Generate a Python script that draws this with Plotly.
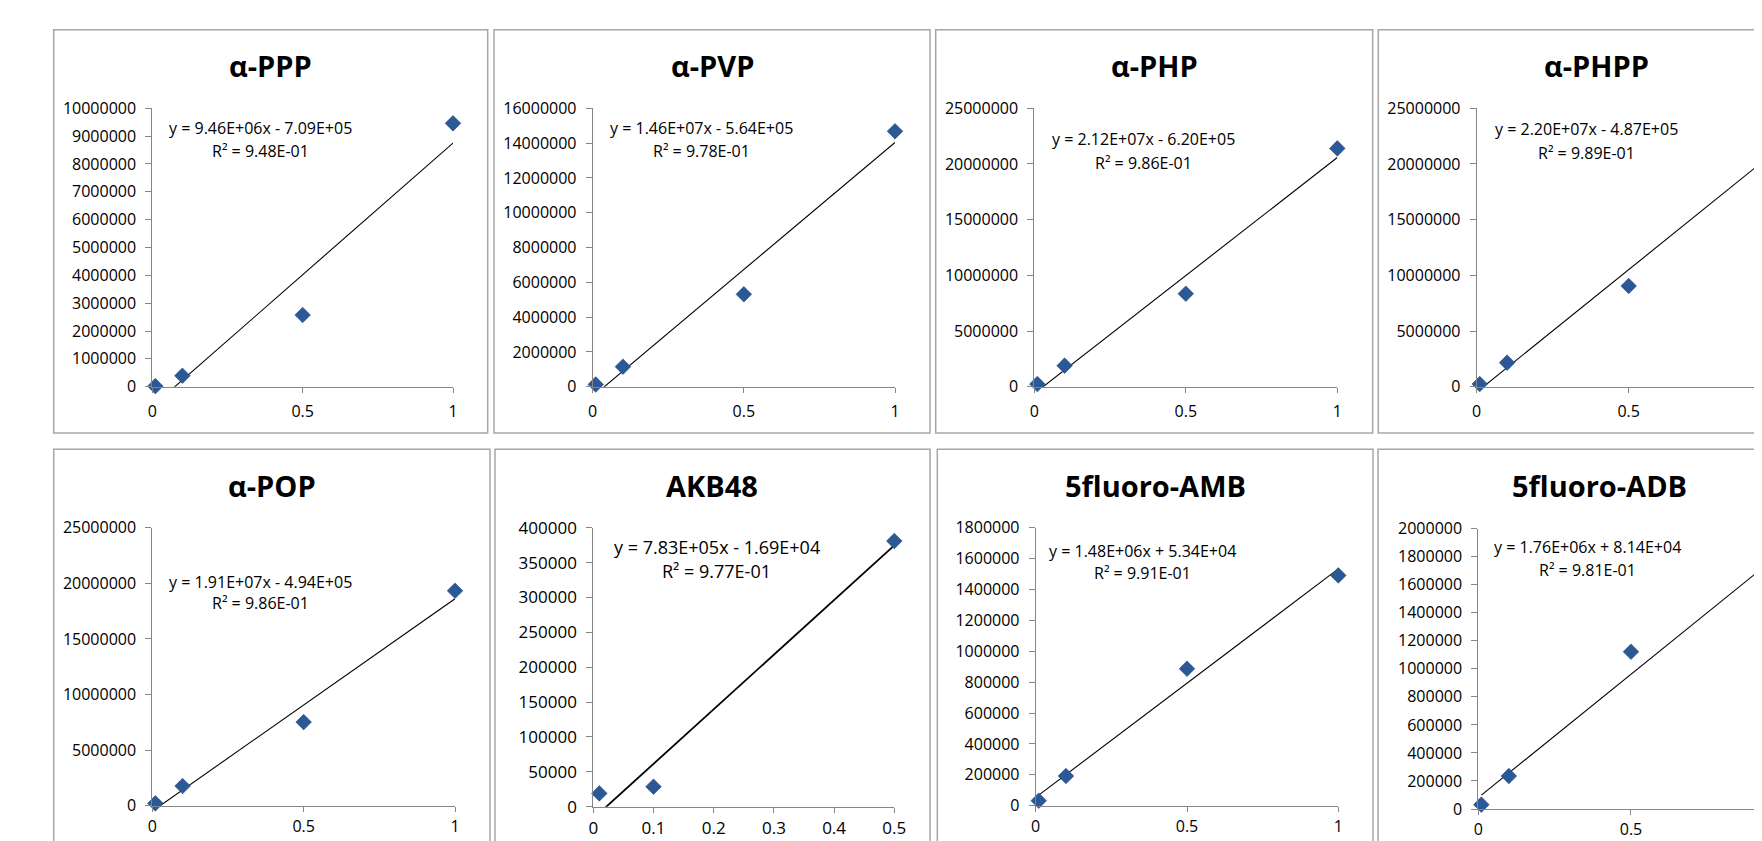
import plotly.graph_objects as go

# The page body adds an 8 px margin, so the figure is drawn 8 px smaller and
# every screen position below is shifted by that offset.
SCREEN_W, SCREEN_H = 1762, 841
OFF = 8
W, H = SCREEN_W - OFF, SCREEN_H - OFF

# ---------------- data ----------------
titles = ["α-PPP", "α-PVP", "α-PHP", "α-PHPP", "α-POP", "AKB48", "5fluoro-AMB", "5fluoro-ADB"]

ppp_x = [0.01, 0.1, 0.5, 1.0]
ppp_y = [20000, 395000, 2575000, 9460000]
pvp_x = [0.01, 0.1, 0.5, 1.0]
pvp_y = [130000, 1150000, 5310000, 14680000]
php_x = [0.01, 0.1, 0.5, 1.0]
php_y = [240000, 1890000, 8350000, 21400000]
phpp_x = [0.01, 0.1, 0.5]          # x = 1 point is cut off in the picture
phpp_y = [240000, 2160000, 9040000]
pop_x = [0.01, 0.1, 0.5, 1.0]
pop_y = [210000, 1770000, 7520000, 19330000]
akb_x = [0.01, 0.1, 0.5]
akb_y = [19100, 28700, 380900]
amb_x = [0.01, 0.1, 0.5, 1.0]
amb_y = [32400, 192000, 887000, 1491000]
adb_x = [0.01, 0.1, 0.5]           # x = 1 point is cut off in the picture
adb_y = [30900, 235000, 1122000]

slopes = [9.46e6, 1.46e7, 2.12e7, 2.20e7, 1.91e7, 7.83e5, 1.48e6, 1.76e6]
intercepts = [-7.09e5, -5.64e5, -6.20e5, -4.87e5, -4.94e5, -1.69e4, 5.34e4, 8.14e4]
r_squared = [9.48e-1, 9.78e-1, 9.86e-1, 9.89e-1, 9.86e-1, 9.77e-1, 9.91e-1, 9.81e-1]
trend_x_min = [0.01] * 8
trend_x_max = [1.0, 1.0, 1.0, 1.0, 1.0, 0.5, 1.0, 1.0]

y_max = [1e7, 1.6e7, 2.5e7, 2.5e7, 2.5e7, 4e5, 1.8e6, 2e6]
y_step = [1e6, 2e6, 5e6, 5e6, 5e6, 5e4, 2e5, 2e5]
x_step = [0.5, 0.5, 0.5, 0.5, 0.5, 0.1, 0.5, 0.5]

series_x = [ppp_x, pvp_x, php_x, phpp_x, pop_x, akb_x, amb_x, adb_x]
series_y = [ppp_y, pvp_y, php_y, phpp_y, pop_y, akb_y, amb_y, adb_y]

# ---------------- layout geometry (screen pixels) ----------------
plot_px = [
    (152.3, 453.0, 108.3, 386.7),
    (592.7, 895.0, 108.3, 386.7),
    (1034.3, 1337.3, 108.3, 386.7),
    (1476.7, 1762.0, 108.3, 386.7),
    (152.3, 455.0, 527.7, 805.7),
    (593.3, 894.3, 527.7, 806.7),
    (1035.7, 1338.3, 527.7, 805.7),
    (1478.3, 1762.0, 528.7, 809.0),
]
x_hi = [1.0, 1.0, 1.0, 0.9385, 1.0, 0.5, 1.0, 0.929]

borders_px = [
    (53.7, 487.7, 29.7, 433.0),
    (494.0, 930.0, 29.7, 433.0),
    (935.7, 1372.7, 29.7, 433.0),
    (1378.3, 1790.0, 29.7, 433.0),
    (53.7, 490.0, 449.3, 880.0),
    (495.0, 930.0, 449.3, 880.0),
    (937.3, 1373.0, 449.3, 880.0),
    (1378.0, 1790.0, 449.3, 880.0),
]
title_px = [
    (270.7, 65.7), (712.0, 65.7), (1154.2, 65.7), (1596.7, 65.7),
    (271.7, 485.7), (712.0, 485.7), (1155.5, 485.7), (1599.2, 485.7),
]
eq_px = [
    (260.0, 127.7, 150.7),
    (701.3, 127.7, 150.7),
    (1143.3, 139.3, 162.7),
    (1586.3, 129.3, 152.7),
    (261.0, 581.7, 603.3),
    (716.5, 546.7, 570.7),
    (1142.8, 550.7, 573.3),
    (1587.2, 547.3, 570.0),
]

FONT = "Open Sans"
AXIS_GRAY = "#868686"
MARK = "#2B5896"


def px(x):
    return (x - OFF) / W


def py(y):
    return 1 - (y - OFF) / H


fig = go.Figure()
shapes = []
annotations = []

for i in range(8):
    n = i + 1
    xa = "x" if n == 1 else f"x{n}"
    ya = "y" if n == 1 else f"y{n}"
    big = (i == 5)
    bottom_row = i >= 4
    tick_size = 17 if big else 16
    eq_size = 18 if big else 16
    title_size = 29

    tx = [trend_x_min[i], trend_x_max[i]]
    ty = [slopes[i] * v + intercepts[i] for v in tx]
    fig.add_trace(go.Scatter(x=tx, y=ty, mode="lines", xaxis=xa, yaxis=ya,
                             line=dict(color="black", width=1.8 if big else 1.1),
                             showlegend=False, hoverinfo="skip"))
    fig.add_trace(go.Scatter(x=series_x[i], y=series_y[i], mode="markers", xaxis=xa, yaxis=ya,
                             marker=dict(symbol="diamond", size=12, color=MARK,
                                         line=dict(width=0.6, color="#244a80")),
                             cliponaxis=False, showlegend=False, name=titles[i]))

    xl, xr, yt, yb = plot_px[i]
    xaxis = dict(domain=[px(xl), min(1.0, px(xr))], range=[0, x_hi[i]], anchor=ya,
                 automargin=False,
                 tick0=0, dtick=x_step[i], showgrid=False, zeroline=False,
                 showline=True, linecolor=AXIS_GRAY, linewidth=1,
                 ticks="outside", ticklen=5, tickcolor=AXIS_GRAY, tickwidth=1,
                 ticklabelstandoff=1 if bottom_row else 5,
                 tickfont=dict(family=FONT, size=tick_size, color="black"))
    yaxis = dict(domain=[py(yb), py(yt)], range=[0, y_max[i]], anchor=xa, automargin=False,
                 tick0=0, dtick=y_step[i], tickformat="d", showgrid=False, zeroline=False,
                 showline=True, linecolor=AXIS_GRAY, linewidth=1,
                 ticks="outside", ticklen=6, tickcolor=AXIS_GRAY, tickwidth=1,
                 ticklabelstandoff=6,
                 tickfont=dict(family=FONT, size=tick_size, color="black"))
    fig.update_layout(**{("xaxis" if n == 1 else f"xaxis{n}"): xaxis,
                         ("yaxis" if n == 1 else f"yaxis{n}"): yaxis})

    bx0, bx1, by0, by1 = borders_px[i]
    shapes.append(dict(type="rect", xref="paper", yref="paper",
                       x0=px(bx0), x1=px(bx1), y0=py(by1), y1=py(by0),
                       line=dict(color="#A6A6A6", width=1.5), layer="below"))

    tx_, ty_ = title_px[i]
    annotations.append(dict(text=f"<b>{titles[i]}</b>", x=px(tx_), y=py(ty_),
                            xref="paper", yref="paper", xanchor="center", yanchor="middle",
                            showarrow=False,
                            font=dict(family=FONT, size=title_size, color="black")))

    sign = "-" if intercepts[i] < 0 else "+"
    eq1 = f"y = {slopes[i]:.2E}x {sign} {abs(intercepts[i]):.2E}"
    eq2 = f"R² = {r_squared[i]:.2E}"
    cx, l1, l2 = eq_px[i]
    for txt, yy in ((eq1, l1), (eq2, l2)):
        annotations.append(dict(text=txt, x=px(cx), y=py(yy), xref="paper", yref="paper",
                                xanchor="center", yanchor="middle", showarrow=False,
                                font=dict(family=FONT, size=eq_size, color="black")))

fig.update_layout(template="none", width=W, height=H,
                  margin=dict(l=0, r=0, t=0, b=0, pad=0, autoexpand=False),
                  paper_bgcolor="white", plot_bgcolor="white",
                  shapes=shapes, annotations=annotations, showlegend=False)

fig.write_html("out.html")
